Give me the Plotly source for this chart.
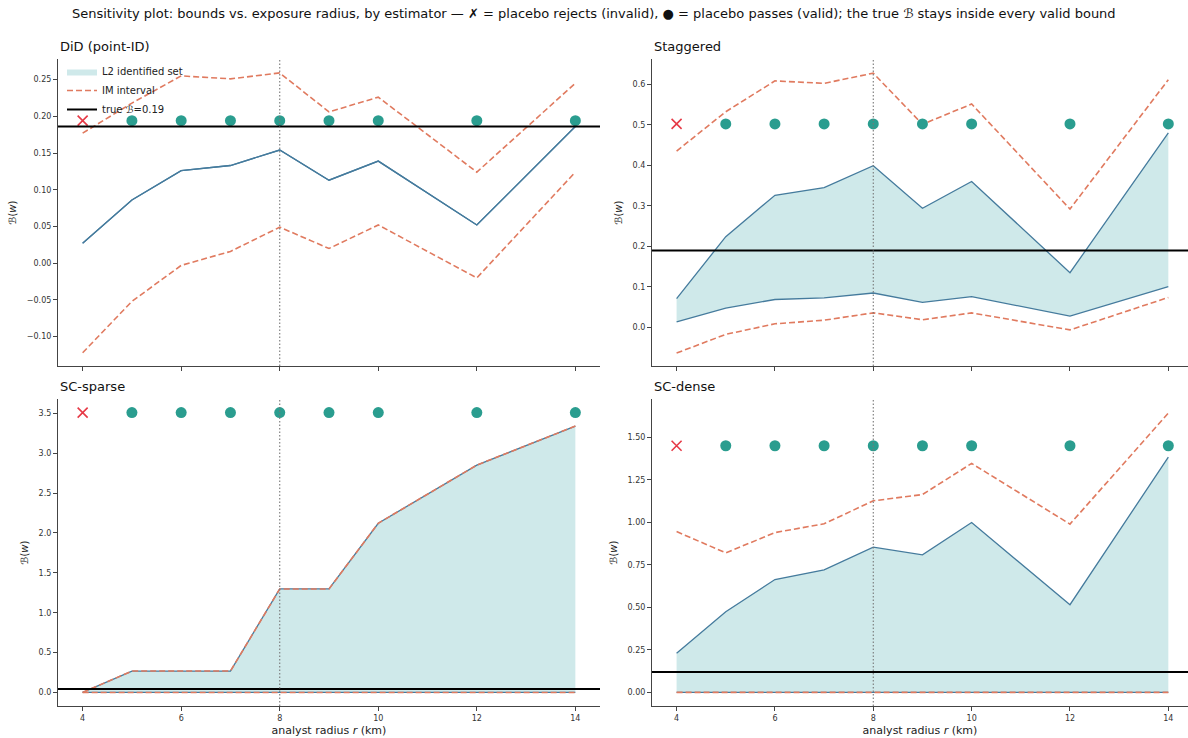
import plotly.graph_objects as go

# ---------------- data ----------------
radius = [4, 5, 6, 7, 8, 9, 10, 12, 14]
placebo_valid = [False, True, True, True, True, True, True, True, True]

panel_titles = ["DiD (point-ID)", "Staggered", "SC-sparse", "SC-dense"]

did_l2_lo = [0.027, 0.086, 0.126, 0.133, 0.154, 0.113, 0.139, 0.052, 0.186]
did_l2_hi = [0.027, 0.086, 0.126, 0.133, 0.154, 0.113, 0.139, 0.052, 0.186]
did_im_lo = [-0.122, -0.052, -0.003, 0.016, 0.049, 0.020, 0.052, -0.020, 0.124]
did_im_hi = [0.177, 0.218, 0.255, 0.251, 0.259, 0.206, 0.226, 0.124, 0.245]

stag_l2_lo = [0.014, 0.048, 0.069, 0.073, 0.085, 0.062, 0.076, 0.028, 0.101]
stag_l2_hi = [0.071, 0.224, 0.326, 0.345, 0.399, 0.294, 0.360, 0.135, 0.480]
stag_im_lo = [-0.063, -0.017, 0.009, 0.018, 0.036, 0.019, 0.036, -0.006, 0.074]
stag_im_hi = [0.435, 0.532, 0.608, 0.602, 0.627, 0.501, 0.551, 0.292, 0.611]

sparse_l2_lo = [0.0, 0.0, 0.0, 0.0, 0.0, 0.0, 0.0, 0.0, 0.0]
sparse_l2_hi = [0.0, 0.268, 0.268, 0.268, 1.298, 1.298, 2.122, 2.851, 3.340]
sparse_im_lo = [0.0, 0.0, 0.0, 0.0, 0.0, 0.0, 0.0, 0.0, 0.0]
sparse_im_hi = [0.0, 0.268, 0.268, 0.268, 1.298, 1.298, 2.122, 2.851, 3.340]

dense_l2_lo = [0.0, 0.0, 0.0, 0.0, 0.0, 0.0, 0.0, 0.0, 0.0]
dense_l2_hi = [0.230, 0.475, 0.664, 0.721, 0.854, 0.809, 0.999, 0.516, 1.384]
dense_im_lo = [0.0, 0.0, 0.0, 0.0, 0.0, 0.0, 0.0, 0.0, 0.0]
dense_im_hi = [0.946, 0.821, 0.940, 0.992, 1.127, 1.164, 1.347, 0.990, 1.643]

true_B = [0.186, 0.190, 0.042, 0.120]
true_B_label = "0.19"
marker_level = [0.194, 0.502, 3.51, 1.451]
chosen_radius = 8

y_ranges = [[-0.140, 0.278], [-0.095, 0.662], [-0.17, 3.68], [-0.080, 1.726]]
y_dtick = [0.05, 0.1, 0.5, 0.25]
y_format = [".2f", ".1f", ".1f", ".2f"]
x_ticks = [4, 6, 8, 10, 12, 14]

l2_lo = [did_l2_lo, stag_l2_lo, sparse_l2_lo, dense_l2_lo]
l2_hi = [did_l2_hi, stag_l2_hi, sparse_l2_hi, dense_l2_hi]
im_lo = [did_im_lo, stag_im_lo, sparse_im_lo, dense_im_lo]
im_hi = [did_im_hi, stag_im_hi, sparse_im_hi, dense_im_hi]

# ---------------- style ----------------
FILL = "#cfe9ea"
BLUE = "#457b9d"
ORANGE = "#e07a5f"
TEAL = "#2a9d8f"
RED = "#e63946"
FONT = "DejaVu Sans"
W, H = 1188, 738

# axes placement in pixels (left, right, top, bottom)
boxes = [(58, 600, 59, 366), (652, 1188, 59, 366),
         (58, 600, 399, 706), (652, 1188, 399, 706)]
x_ranges = [[3.5, 14.5], [3.5, 14.4], [3.5, 14.5], [3.5, 14.4]]

fig = go.Figure()
layout = {}
shapes = []
annotations = []

for i in range(4):
    n = "" if i == 0 else str(i + 1)
    xa, ya = "x" + n, "y" + n
    l, r, t, b = boxes[i]
    bottom_row = i >= 2

    # L2 identified set fill
    fig.add_trace(go.Scatter(x=radius, y=l2_lo[i], xaxis=xa, yaxis=ya, mode="lines",
                             line=dict(width=0, color=FILL), showlegend=False, hoverinfo="skip"))
    fig.add_trace(go.Scatter(x=radius, y=l2_hi[i], xaxis=xa, yaxis=ya, mode="lines",
                             fill="tonexty", fillcolor=FILL, line=dict(width=0, color=FILL),
                             showlegend=False, hoverinfo="skip"))
    # L2 bounds lines
    for arr in (l2_lo[i], l2_hi[i]):
        fig.add_trace(go.Scatter(x=radius, y=arr, xaxis=xa, yaxis=ya, mode="lines",
                                 line=dict(width=1.3, color=BLUE), showlegend=False))
    # IM interval
    for arr in (im_lo[i], im_hi[i]):
        fig.add_trace(go.Scatter(x=radius, y=arr, xaxis=xa, yaxis=ya, mode="lines",
                                 line=dict(width=1.6, color=ORANGE, dash="6px,3px"),
                                 showlegend=False))
    # placebo markers
    xv = [rr for rr, v in zip(radius, placebo_valid) if v]
    xi = [rr for rr, v in zip(radius, placebo_valid) if not v]
    fig.add_trace(go.Scatter(x=xv, y=[marker_level[i]] * len(xv), xaxis=xa, yaxis=ya,
                             mode="markers", marker=dict(symbol="circle", size=11, color=TEAL),
                             showlegend=False))
    fig.add_trace(go.Scatter(x=xi, y=[marker_level[i]] * len(xi), xaxis=xa, yaxis=ya,
                             mode="markers",
                             marker=dict(symbol="x-thin", size=10, color=RED,
                                         line=dict(width=1.6, color=RED)),
                             showlegend=False))

    # true B line
    shapes.append(dict(type="line", xref=xa + " domain", yref=ya, x0=0, x1=1,
                       y0=true_B[i], y1=true_B[i], line=dict(color="black", width=2), layer="above"))
    # chosen radius dotted line
    shapes.append(dict(type="line", xref=xa, yref=ya + " domain", x0=chosen_radius, x1=chosen_radius,
                       y0=0, y1=1, line=dict(color="#777777", width=1.1, dash="1.5px,2px"),
                       layer="above"))

    axis_common = dict(showgrid=False, zeroline=False, showline=True, linecolor="#444444",
                       linewidth=1.1, ticks="outside", ticklen=4, tickcolor="#444444",
                       tickfont=dict(family=FONT, size=8, color="#333333"))
    layout["xaxis" + n] = dict(axis_common, domain=[l / W, r / W], range=x_ranges[i],
                               anchor=ya, tickvals=x_ticks, showticklabels=bottom_row,
                               title=dict(text="analyst radius <i>r</i> (km)",
                                          font=dict(family=FONT, size=11, color="#222"),
                                          standoff=4) if bottom_row else None)
    layout["yaxis" + n] = dict(axis_common, domain=[1 - b / H, 1 - t / H], range=y_ranges[i],
                               anchor=xa, dtick=y_dtick[i], tick0=0, tickformat=y_format[i],
                               title=dict(text="ℬ(<i>w</i>)",
                                          font=dict(family=FONT, size=10, color="#222"),
                                          standoff=8))
    annotations.append(dict(text=panel_titles[i], xref="paper", yref="paper",
                            x=l / W, y=1 - (t - 3) / H, xanchor="left", yanchor="bottom",
                            showarrow=False, font=dict(family=FONT, size=13, color="#111")))

# legend-only entries
fig.add_trace(go.Scatter(x=[None], y=[None], mode="lines", fill="toself", fillcolor=FILL,
                         line=dict(width=0, color=FILL), name="L2 identified set"))
fig.add_trace(go.Scatter(x=[None], y=[None], mode="lines",
                         line=dict(width=1.6, color=ORANGE, dash="6px,3px"), name="IM interval"))
fig.add_trace(go.Scatter(x=[None], y=[None], mode="lines",
                         line=dict(width=2, color="black"), name="true ℬ=" + true_B_label))

annotations.append(dict(
    text="Sensitivity plot: bounds vs. exposure radius, by estimator — <i>✗</i> = placebo rejects (invalid), "
         "● = placebo passes (valid); the true <i>ℬ</i> stays inside every valid bound",
    xref="paper", yref="paper", x=0.5, y=1 - 13 / H, xanchor="center", yanchor="middle",
    showarrow=False, font=dict(family=FONT, size=13, color="#111")))

fig.update_layout(
    width=W, height=H, margin=dict(l=0, r=0, t=0, b=0),
    paper_bgcolor="white", plot_bgcolor="white",
    font=dict(family=FONT),
    shapes=shapes, annotations=annotations,
    legend=dict(x=62 / W, y=1 - 57 / H, xanchor="left", yanchor="top", traceorder="normal",
                bgcolor="rgba(0,0,0,0)", font=dict(family=FONT, size=10, color="#222"),
                tracegroupgap=0, itemwidth=30),
    **layout,
)

fig.write_html("out.html", config={"displayModeBar": False},
               post_script="document.body.style.margin='0';document.body.style.overflow='hidden';")
